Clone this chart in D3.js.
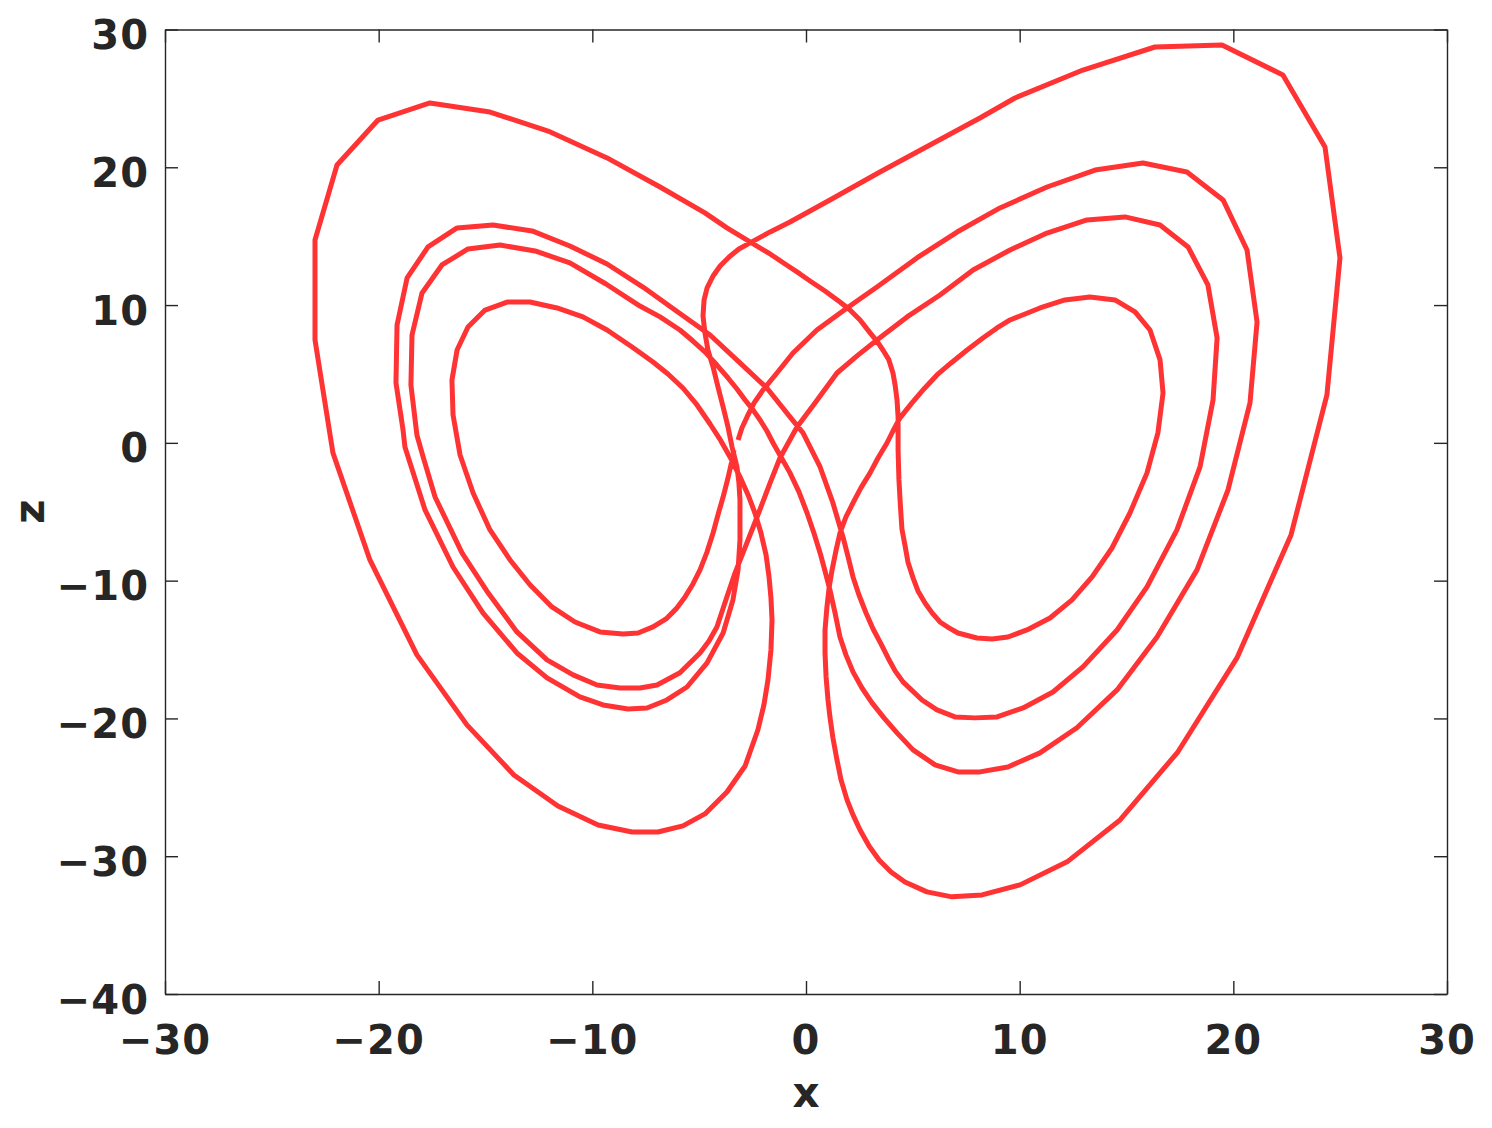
<!DOCTYPE html>
<meta charset="utf-8">
<script src="https://d3js.org/d3.v7.min.js"></script>
<style>
  body { margin: 0; background: #fff; }
</style>
<div id="chart"></div>
<script>
// trajectory, [x, z] pairs in the order the curve runs
// start stub -> right loop (top ~20)
const wingR2 = [[-3.18,0.21],[-3.00,1.08],[-2.76,1.88],[-2.43,2.90],[-2.01,3.84],[-1.36,5.07],[-0.61,6.52],[0.51,8.19],[1.92,9.79],[3.32,11.31],[5.19,13.42],[7.07,15.30],[9.08,17.05],[11.28,18.57],[13.53,19.80],[15.77,20.31],[17.83,19.66],[19.52,17.63],[20.64,14.00],[21.11,8.77],[20.78,2.90],[19.75,-3.42],[18.30,-9.22],[16.43,-14.09],[14.56,-17.93],[12.68,-20.68],[10.95,-22.50],[9.45,-23.52],[8.14,-23.88],[7.11,-23.88],[6.04,-23.37],[5.01,-22.28],[4.26,-21.05],[3.65,-19.96],[3.09,-18.87],[2.62,-17.79],[2.20,-16.62],[1.87,-15.39],[1.59,-14.09],[1.36,-12.34],[1.12,-10.67],[0.89,-9.30],[0.66,-7.99],[0.37,-6.54],[0.05,-5.09],[-0.33,-3.56],[-0.75,-2.18],[-1.17,-1.02],[-1.54,-0.01],[-1.83,0.86],[-2.15,1.66],[-2.48,2.39],[-2.85,3.11],[-3.23,3.91],[-3.65,4.71],[-4.17,5.65],[-4.73,6.60],[-5.29,7.39],[-5.90,8.19],[-6.83,9.14]];
// left loop (top ~14)
const wingL3 = [[-7.77,9.93],[-9.36,11.53],[-11.05,13.06],[-12.68,13.93],[-14.32,14.36],[-15.82,14.07],[-17.04,12.91],[-17.97,10.88],[-18.44,7.83],[-18.49,4.20],[-18.21,0.57],[-17.92,-1.02],[-17.36,-3.93],[-16.10,-7.99],[-14.88,-10.88],[-13.53,-13.72],[-12.12,-15.75],[-10.90,-16.84],[-9.78,-17.57],[-8.70,-17.79],[-7.77,-17.79],[-6.97,-17.57],[-5.90,-16.69],[-4.96,-15.25],[-4.54,-14.38],[-4.17,-13.36],[-3.70,-11.17],[-3.32,-9.44],[-2.95,-7.99],[-2.29,-5.38],[-1.68,-2.91],[-1.22,-1.10],[-0.42,1.15],[0.42,2.90],[1.45,5.07],[2.39,6.31],[3.32,7.47],[4.73,9.14],[6.27,10.73],[7.82,12.55]];
// right loop (top ~16)
const wingR3 = [[9.55,14.00],[11.28,15.23],[13.15,16.18],[14.93,16.40],[16.57,15.81],[17.88,14.22],[18.81,11.46],[19.24,7.61],[19.05,3.11],[18.44,-1.75],[17.36,-6.32],[15.96,-10.45],[14.56,-13.58],[12.96,-16.26],[11.56,-18.08],[10.16,-19.24],[8.94,-19.89],[7.91,-19.96],[6.97,-19.89],[6.13,-19.38],[5.43,-18.66],[4.54,-17.35],[4.17,-16.55],[3.84,-15.61],[3.51,-14.59],[3.14,-13.51],[2.81,-12.35],[2.48,-11.04],[2.20,-9.73],[1.97,-8.28],[1.73,-6.83],[1.26,-4.36],[0.66,-1.75],[-0.14,0.72],[-0.75,1.88],[-1.83,3.98],[-3.09,5.80],[-4.49,7.83]];
// left loop (top ~16)
const wingL2 = [[-6.13,9.64],[-7.63,11.31],[-9.31,12.98],[-11.05,14.29],[-12.82,15.38],[-14.65,15.81],[-16.33,15.60],[-17.69,14.22],[-18.67,11.97],[-19.14,8.56],[-19.19,4.35],[-18.86,0.94],[-18.77,-0.30],[-17.83,-4.87],[-16.52,-9.01],[-15.12,-12.34],[-13.53,-15.25],[-12.12,-17.06],[-10.58,-18.44],[-9.50,-19.02],[-8.33,-19.31],[-7.44,-19.24],[-6.51,-18.66],[-5.57,-17.72],[-4.63,-15.97],[-3.88,-13.80],[-3.42,-11.40],[-3.18,-9.22],[-3.09,-7.05],[-3.09,-5.60],[-3.09,-4.14],[-3.14,-2.90],[-3.23,-1.75],[-3.46,-0.30],[-3.65,1.15],[-3.88,2.61],[-4.12,4.06],[-4.35,5.51],[-4.59,6.74],[-4.73,7.98],[-4.82,9.21],[-4.77,10.37],[-4.63,11.24],[-4.35,12.11],[-4.02,12.84],[-3.60,13.49],[-3.14,14.07],[-2.62,14.51]];
// big right loop
const wingRouter = [[-1.68,15.31],[-0.75,16.03],[1.12,17.63],[3.46,19.66],[5.80,21.62],[8.14,23.58],[9.78,25.03],[12.96,27.06],[16.33,28.73],[19.47,28.87],[22.32,26.70],[24.29,21.47],[24.99,13.42],[24.38,3.48],[22.70,-6.68],[20.17,-15.61],[17.41,-22.42],[14.70,-27.37],[12.22,-30.41],[10.02,-32.08],[8.24,-32.81],[6.83,-32.95],[5.66,-32.59],[4.63,-31.87],[3.98,-31.14],[3.42,-30.27],[2.95,-29.26],[2.53,-28.10],[2.20,-27.00],[1.92,-25.91],[1.64,-24.46],[1.45,-23.01],[1.26,-21.41],[1.12,-19.89],[1.03,-18.66],[0.94,-16.99],[0.89,-15.25],[0.89,-13.58],[0.98,-11.91],[1.08,-10.53],[1.22,-9.22],[1.40,-7.84],[1.59,-6.54],[1.87,-5.38],[2.20,-4.36],[2.57,-3.27],[3.00,-2.18],[3.37,-1.10],[3.79,-0.01],[4.07,0.86],[4.40,1.81],[4.96,2.90],[5.52,3.91],[6.13,4.93],[6.79,5.80],[7.54,6.74],[8.28,7.61],[8.94,8.34],[9.55,8.92]];
// small right loop
const wingR4 = [[10.95,9.79],[12.12,10.37],[13.29,10.59],[14.46,10.37],[15.40,9.50],[16.10,8.19],[16.57,6.02],[16.71,3.62],[16.47,0.72],[15.96,-2.18],[15.16,-5.09],[14.32,-7.63],[13.39,-9.73],[12.45,-11.40],[11.42,-12.71],[10.34,-13.58],[9.45,-14.09],[8.71,-14.23],[8.00,-14.16],[7.11,-13.80],[6.69,-13.43],[6.27,-13.00],[5.90,-12.34],[5.57,-11.62],[5.24,-10.75],[5.01,-9.80],[4.77,-8.64],[4.63,-7.41],[4.49,-6.26],[4.42,-4.60],[4.35,-2.69],[4.31,-0.52],[4.31,0.94],[4.31,1.88],[4.26,3.11],[4.17,4.20],[4.07,5.07],[3.88,6.02],[3.60,6.74],[3.32,7.39],[3.00,7.98],[2.53,8.92],[2.06,9.64],[1.59,10.22],[0.89,11.02],[0.19,11.75],[-0.28,12.26],[-0.98,12.98],[-1.68,13.71],[-2.62,14.58],[-3.70,15.60]];
// big left loop
const wingLouter = [[-4.73,16.69],[-6.83,18.57],[-9.31,20.68],[-12.07,22.63],[-14.79,24.01],[-17.60,24.67],[-20.03,23.43],[-21.95,20.17],[-22.98,14.72],[-22.98,7.47],[-22.14,-0.73],[-20.41,-8.50],[-18.21,-15.39],[-15.87,-20.47],[-13.67,-24.10],[-11.61,-26.35],[-9.73,-27.73],[-8.14,-28.24],[-6.93,-28.24],[-5.76,-27.80],[-4.73,-26.93],[-3.70,-25.34],[-2.85,-23.45],[-2.25,-20.82],[-1.97,-19.02],[-1.78,-17.21],[-1.64,-15.03],[-1.59,-12.85],[-1.64,-11.26],[-1.73,-9.73],[-1.87,-8.13],[-2.11,-6.53],[-2.39,-5.09],[-2.71,-3.78],[-3.09,-2.47],[-3.51,-1.16],[-3.98,0.14],[-4.49,1.37],[-5.10,2.75],[-5.76,3.98],[-6.46,5.00],[-7.16,5.87],[-7.68,6.45],[-8.14,6.96]];
// small left loop, the curve stops on its way up
const wingL4 = [[-9.31,8.19],[-10.44,9.14],[-11.65,9.79],[-12.92,10.22],[-13.99,10.22],[-15.02,9.64],[-15.82,8.41],[-16.33,6.74],[-16.57,4.56],[-16.52,2.03],[-16.19,-0.88],[-15.58,-3.64],[-14.79,-6.32],[-13.85,-8.50],[-12.92,-10.30],[-11.89,-11.91],[-10.81,-13.00],[-9.64,-13.72],[-8.56,-13.87],[-7.86,-13.80],[-7.16,-13.36],[-6.55,-12.78],[-6.08,-12.05],[-5.66,-11.18],[-5.29,-10.24],[-4.96,-9.22],[-4.63,-7.91],[-4.35,-6.54],[-4.12,-5.23],[-3.88,-3.93],[-3.65,-2.55],[-3.46,-1.24],[-3.37,-0.52]];

const xTicks = [-30, -20, -10, 0, 10, 20, 30];
const zTicks = [-40, -30, -20, -10, 0, 10, 20, 30];

const trajectory = [].concat(wingR2, wingL3, wingR3, wingL2, wingRouter, wingR4, wingLouter, wingL4);

const width = 1492, height = 1128;
const margin = {top: 29.5, right: 45, bottom: 134, left: 165};
const axisColor = "#262626";
const fontStack = "'DejaVu Sans', sans-serif";

const svg = d3.select("#chart")
    .append("svg")
    .attr("width", width)
    .attr("height", height)
    .style("background", "#fff");

const x = d3.scaleLinear().domain([-30, 30]).range([margin.left, width - margin.right]);
const z = d3.scaleLinear().domain([-40, 30]).range([height - margin.bottom, margin.top]);

const fmt = d => (d < 0 ? "\u2212" + Math.abs(d) : String(d));

// the curve, clipped to the plot box
svg.append("clipPath").attr("id", "plotclip")
  .append("rect")
    .attr("x", x(-30)).attr("y", z(30))
    .attr("width", x(30) - x(-30)).attr("height", z(-40) - z(30));

svg.append("path")
    .datum(trajectory)
    .attr("clip-path", "url(#plotclip)")
    .attr("fill", "none")
    .attr("stroke", "#ff3333")
    .attr("stroke-width", 5)
    .attr("stroke-linejoin", "round")
    .attr("d", d3.line().x(d => x(d[0])).y(d => z(d[1])));

// box axes with inward ticks on all four sides
const tick = 13;
const axes = [
  [d3.axisBottom(x).tickValues(xTicks), `translate(0,${z(-40)})`],
  [d3.axisTop(x).tickValues(xTicks), `translate(0,${z(30)})`],
  [d3.axisLeft(z).tickValues(zTicks), `translate(${x(-30)},0)`],
  [d3.axisRight(z).tickValues(zTicks), `translate(${x(30)},0)`]
];
axes.forEach(([ax, tr]) => {
  const g = svg.append("g")
      .attr("transform", tr)
      .call(ax.tickSizeInner(-tick).tickSizeOuter(0).tickFormat(""));
  g.select(".domain").attr("stroke", axisColor).attr("stroke-width", 1.4);
  g.selectAll(".tick line").attr("stroke", axisColor).attr("stroke-width", 1.4);
});

// tick labels
svg.append("g")
  .selectAll("text")
  .data(xTicks)
  .join("text")
    .attr("x", d => x(d))
    .attr("y", z(-40) + 60)
    .attr("text-anchor", "middle")
    .attr("font-family", fontStack)
    .attr("font-weight", "bold")
    .attr("font-size", 40)
    .attr("letter-spacing", 1)
    .attr("fill", axisColor)
    .text(fmt);

svg.append("g")
  .selectAll("text")
  .data(zTicks)
  .join("text")
    .attr("x", x(-30) - 16)
    .attr("y", d => z(d) + 19.5)
    .attr("text-anchor", "end")
    .attr("font-family", fontStack)
    .attr("font-weight", "bold")
    .attr("font-size", 40)
    .attr("letter-spacing", 1)
    .attr("fill", axisColor)
    .text(fmt);

// axis titles
svg.append("text")
    .attr("x", x(0))
    .attr("y", 1107)
    .attr("text-anchor", "middle")
    .attr("font-family", fontStack)
    .attr("font-weight", "bold")
    .attr("font-size", 42)
    .attr("fill", axisColor)
    .text("x");

svg.append("text")
    .attr("transform", `translate(44,${z(-5)}) rotate(-90)`)
    .attr("text-anchor", "middle")
    .attr("font-family", fontStack)
    .attr("font-weight", "bold")
    .attr("font-size", 42)
    .attr("fill", axisColor)
    .text("z");
</script>
